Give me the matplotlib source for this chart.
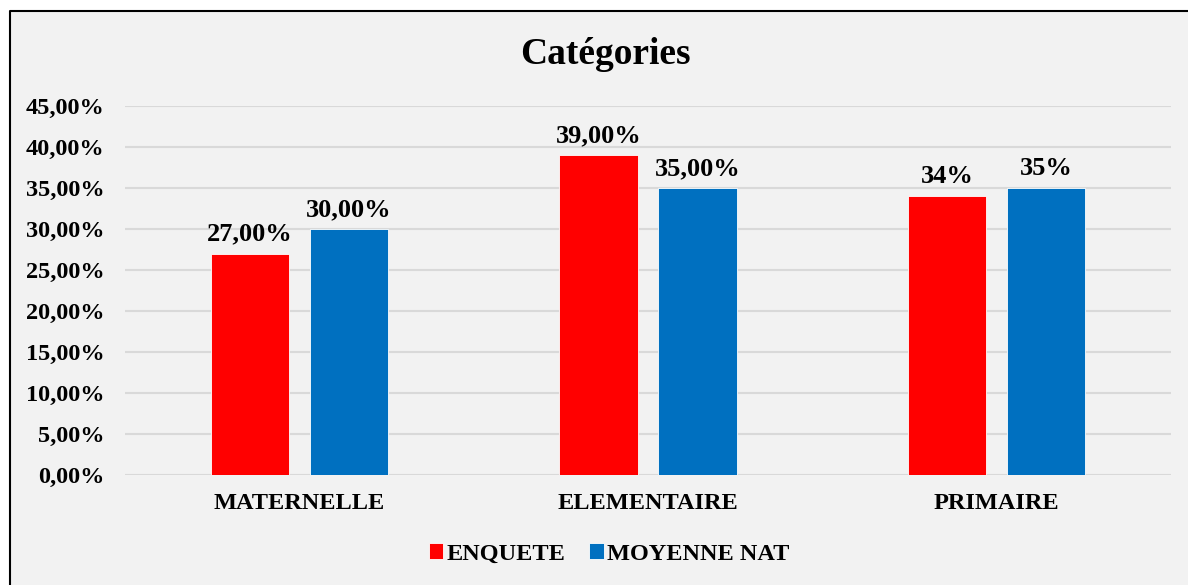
import matplotlib
matplotlib.use("Agg")
import numpy as np
from matplotlib import pyplot as plt
from matplotlib.patches import Rectangle
from matplotlib.lines import Line2D

plt.rcParams['font.family'] = ['Liberation Serif', 'DejaVu Serif']
plt.rcParams['font.weight'] = 'bold'

# données
categories = ["MATERNELLE", "ELEMENTAIRE", "PRIMAIRE"]
enquete = [0.27, 0.39, 0.34]
moyenne_nat = [0.30, 0.35, 0.35]
enquete_labels = ["27,00%", "39,00%", "34%"]
moyenne_labels = ["30,00%", "35,00%", "35%"]
yticks = [0.00, 0.05, 0.10, 0.15, 0.20, 0.25, 0.30, 0.35, 0.40, 0.45]
ytick_labels = ["0,00%", "5,00%", "10,00%", "15,00%", "20,00%", "25,00%",
                "30,00%", "35,00%", "40,00%", "45,00%"]

W, H = 1188, 585
fig = plt.figure(figsize=(W / 100, H / 100), dpi=100)
fig.patch.set_facecolor("white")

# cadre : fond gris, trait à gauche et en haut
top = 1 - 10.5 / H
left = 9.5 / W
fig.patches.append(Rectangle((left, 0), 1 - left, top, transform=fig.transFigure,
                             facecolor="#f2f2f2", edgecolor="none", zorder=-2))
fig.lines.append(Line2D([left, left, 1], [0, top, top], transform=fig.transFigure,
                        color="black", linewidth=1.5, zorder=-1))

ax = fig.add_axes([125 / W, 1 - 475 / H, (1171 - 125) / W, (475 - 106) / H])
ax.set_facecolor("none")

x = np.arange(len(categories))
w = 0.224
off = 0.142
b1 = ax.bar(x - off, enquete, w, color="#ff0000", edgecolor="#ffffff", linewidth=0.6,
            label="ENQUETE", zorder=3)
b2 = ax.bar(x + off, moyenne_nat, w, color="#0070c0", edgecolor="#ffffff", linewidth=0.6,
            label="MOYENNE NAT", zorder=3)

for bar, lab in zip(b1, enquete_labels):
    ax.annotate(lab, (bar.get_x() + bar.get_width() / 2, bar.get_height()),
                xytext=(0, 8), textcoords="offset pixels", ha="center", va="bottom",
                fontsize=19, fontweight="bold")
for bar, lab in zip(b2, moyenne_labels):
    ax.annotate(lab, (bar.get_x() + bar.get_width() / 2, bar.get_height()),
                xytext=(0, 8), textcoords="offset pixels", ha="center", va="bottom",
                fontsize=19, fontweight="bold")

ax.set_xlim(-0.5, 2.5)
ax.set_ylim(0, 0.45)
ax.set_yticks(yticks)
ax.set_yticklabels(ytick_labels, fontsize=17.5, fontweight="bold")
ax.set_xticks(x)
ax.set_xticklabels(categories, fontsize=17.5, fontweight="bold")
ax.tick_params(axis="y", length=0, pad=15)
ax.tick_params(axis="x", length=0, pad=13)
ax.grid(axis="y", color="#d9d9d9", linewidth=1.5, zorder=0)
for s in ax.spines.values():
    s.set_visible(False)

fig.text(605 / W, 1 - 55 / H, "Catégories", ha="center", va="center",
         fontsize=27, fontweight="bold")

fig.legend(handles=[b1, b2], loc="center", bbox_to_anchor=(609 / W, 1 - 554 / H),
           ncol=2, frameon=False, handlelength=0.6, handleheight=0.6,
           handletextpad=0.12, columnspacing=1.0, prop={"weight": "bold", "size": 17.5})

fig.savefig("out.png", dpi=100)
